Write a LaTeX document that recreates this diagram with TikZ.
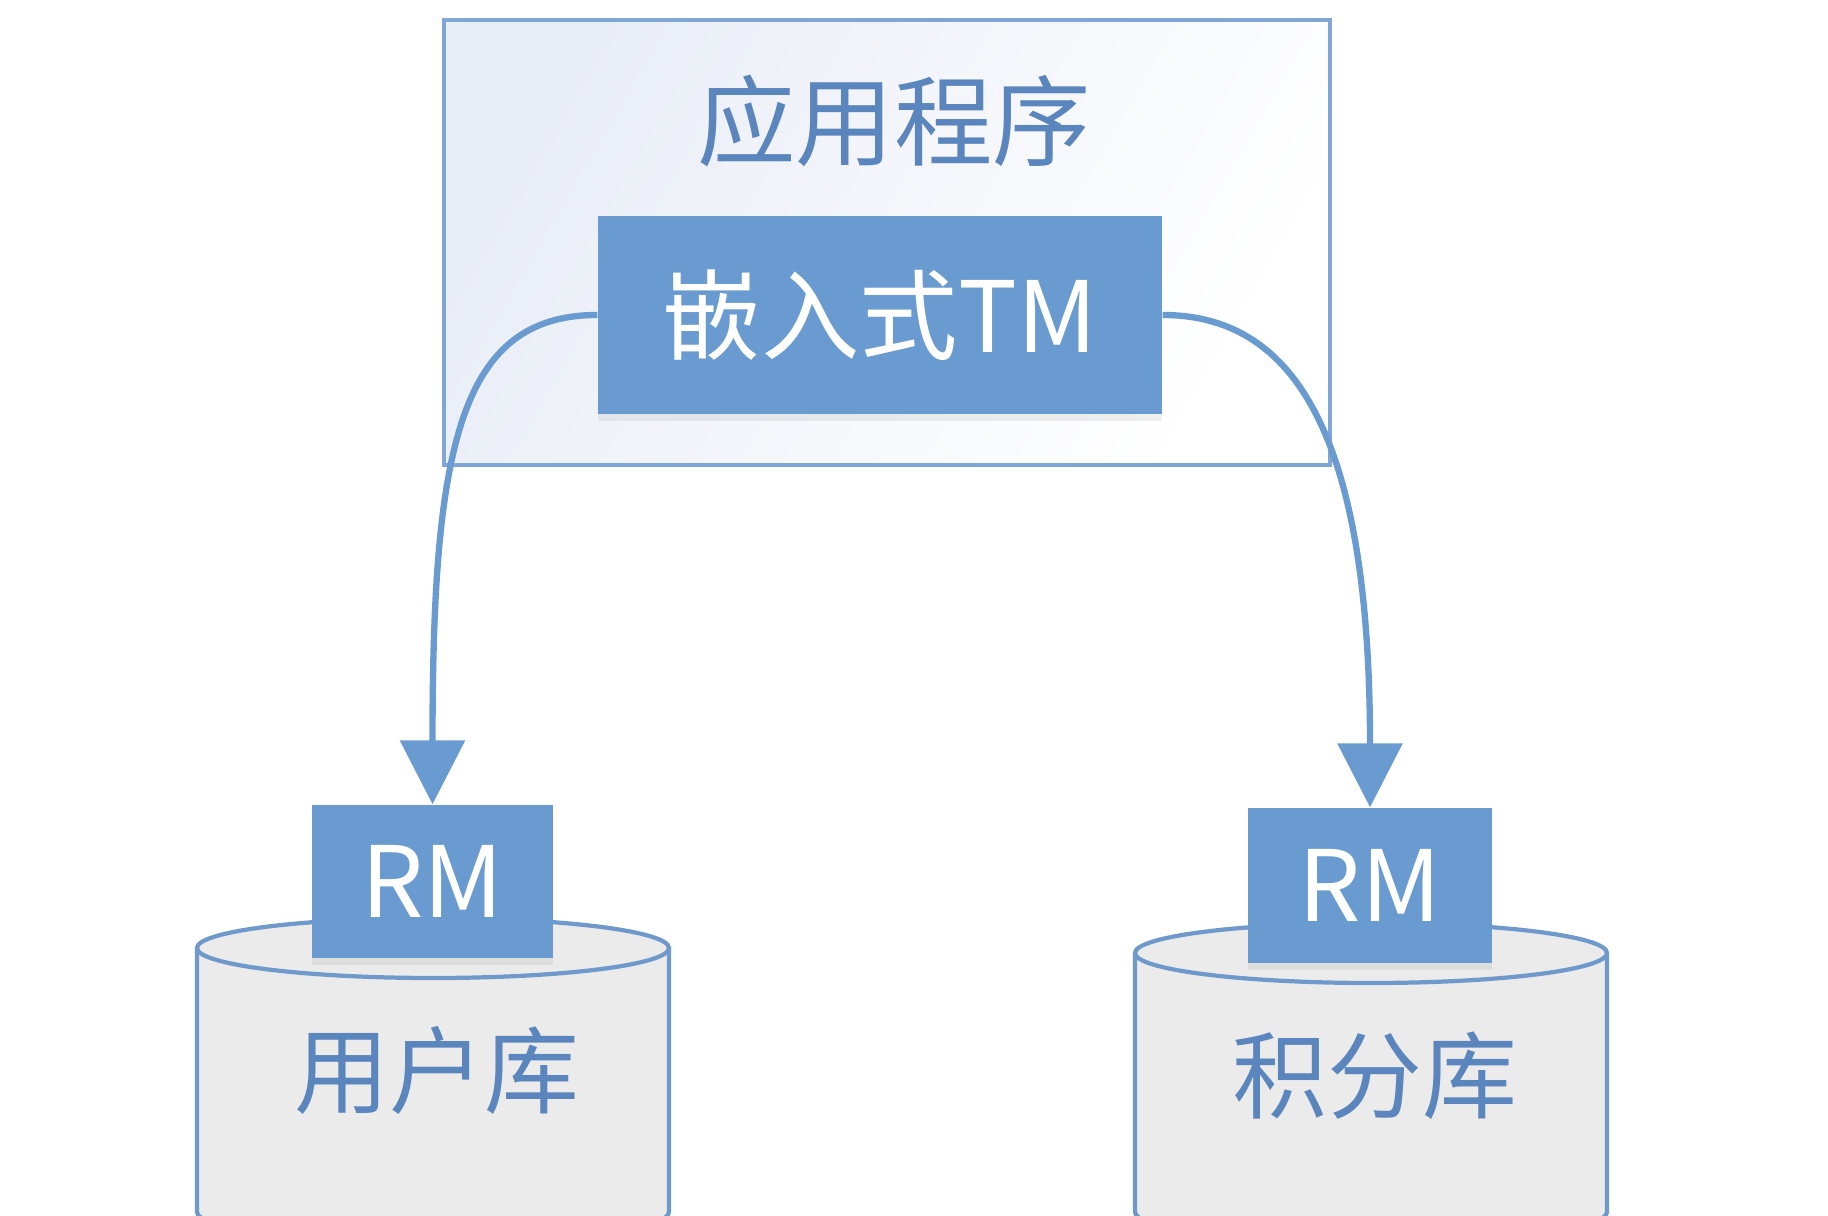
\documentclass[tikz,border=0pt]{standalone}
\usepackage{fontspec}
\setmainfont{Noto Sans CJK SC}
\usetikzlibrary{arrows.meta,shadows}
\definecolor{boxblue}{HTML}{6A9BD0}
\definecolor{appline}{HTML}{7FA6D6}
\definecolor{appfill}{HTML}{E9EDF6}
\definecolor{textblue}{HTML}{5A85BD}
\definecolor{dbfill}{HTML}{EBEBEB}
\definecolor{dbline}{HTML}{7099CB}
\begin{document}
\begin{tikzpicture}[
        frame/.style={draw=appline,line width=1.3pt,left color=appfill,right color=white,shading angle=60,inner sep=0pt},
        title/.style={text=textblue,font=\fontsize{28}{32}\selectfont},
        blkbox/.style={fill=boxblue,text=white,inner sep=0pt,font=\fontsize{28}{32}\selectfont,
            drop shadow={shadow xshift=0pt,shadow yshift=-2pt,opacity=0.12}},
        dbbody/.style={draw=dbline,fill=dbfill,line width=1.2pt},
        dblabel/.style={text=textblue,font=\fontsize{27}{31}\selectfont},
        link/.style={draw=boxblue,line width=1.8pt,-{Triangle[width=0.64cm,length=0.64cm]}},
        ]
    \useasboundingbox[fill=white] (0,0) rectangle (18.28,-12.16);
    % application frame
    \node[frame,minimum width=8.86cm,minimum height=4.45cm] (app) at (8.87,-2.425) {};
    \node[title] (apptitle) at (8.94,-1.21) {应用程序};
    \node[blkbox,minimum width=5.64cm,minimum height=1.98cm] (tm) at (8.80,-3.15) {嵌入式TM};
    % databases
    \draw[dbbody] (1.97,-9.48) -- (1.97,-12.12)
        arc[start angle=180,end angle=360,x radius=2.36cm,y radius=0.3cm] -- (6.69,-9.48);
    \draw[dbbody] (4.33,-9.48) ellipse[x radius=2.36cm,y radius=0.3cm];
    \draw[dbbody] (11.35,-9.53) -- (11.35,-12.12)
        arc[start angle=180,end angle=360,x radius=2.36cm,y radius=0.3cm] -- (16.07,-9.53);
    \draw[dbbody] (13.71,-9.53) ellipse[x radius=2.36cm,y radius=0.3cm];
    \node[dblabel] (userdb) at (4.37,-10.70) {用户库};
    \node[dblabel] (scoredb) at (13.75,-10.76) {积分库};
    \node[blkbox,minimum width=2.41cm,minimum height=1.53cm] (rmuser) at (4.325,-8.815) {RM};
    \node[blkbox,minimum width=2.44cm,minimum height=1.55cm] (rmscore) at (13.70,-8.855) {RM};
    % calls from TM to the RMs
    \draw[link] (tm.west) .. controls +(-1.38,0) and +(0,3.57) .. (rmuser.north);
    \draw[link] (tm.east) .. controls +(1.38,0) and +(0,3.6) .. (rmscore.north);
\end{tikzpicture}
\end{document}
